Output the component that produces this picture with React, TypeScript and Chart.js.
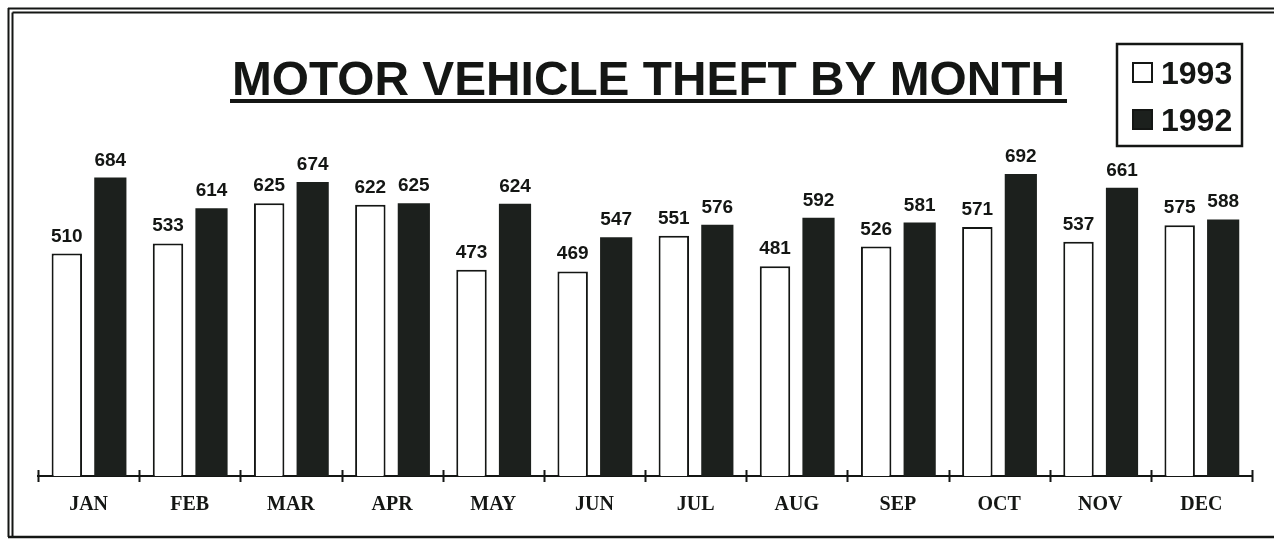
import React, { useEffect, useRef } from "react";
import { Chart, registerables } from "chart.js";

Chart.register(...registerables);

const months = ["JAN", "FEB", "MAR", "APR", "MAY", "JUN", "JUL", "AUG", "SEP", "OCT", "NOV", "DEC"];
const theft1993 = [510, 533, 625, 622, 473, 469, 551, 481, 526, 571, 537, 575];
const theft1992 = [684, 614, 674, 625, 624, 547, 576, 592, 581, 692, 661, 588];
const seriesLabels = ["1993", "1992"];
const titleText = "MOTOR VEHICLE THEFT BY MONTH";

const INK = "#141614";
const DARK = "#1c201d";
const SANS = '"Liberation Sans", Arial, sans-serif';
const SERIF = '"Liberation Serif", "Times New Roman", serif';

const framePlugin = {
  id: "frame",
  beforeDraw(chart: any) {
    const { ctx, width, height } = chart;
    ctx.save();
    ctx.fillStyle = "#ffffff";
    ctx.fillRect(0, 0, width, height);
    ctx.strokeStyle = INK;
    ctx.lineWidth = 2;
    // outer double lines top & left
    ctx.beginPath();
    ctx.moveTo(8, 8.5);
    ctx.lineTo(width, 8.5);
    ctx.moveTo(8.5, 8);
    ctx.lineTo(8.5, 537);
    ctx.moveTo(12.5, 12.5);
    ctx.lineTo(width, 12.5);
    ctx.moveTo(12.5, 12.5);
    ctx.lineTo(12.5, 537);
    ctx.stroke();
    // bottom line
    ctx.lineWidth = 2.5;
    ctx.beginPath();
    ctx.moveTo(8, 537);
    ctx.lineTo(width, 537);
    ctx.stroke();
    ctx.restore();
  },
};

const decorPlugin = {
  id: "decor",
  afterDraw(chart: any) {
    const { ctx } = chart;
    const xs = chart.scales.x;
    ctx.save();

    // Title
    const tLeft = 232;
    const tRight = 1065;
    ctx.font = `bold 49px ${SANS}`;
    ctx.fillStyle = INK;
    ctx.textBaseline = "alphabetic";
    ctx.textAlign = "left";
    const w = ctx.measureText(titleText).width;
    const sx = (tRight - tLeft) / w;
    ctx.save();
    ctx.translate(tLeft, 95);
    ctx.scale(sx, 1);
    ctx.fillText(titleText, 0, 0);
    ctx.restore();
    ctx.fillRect(tLeft - 2, 99, tRight - tLeft + 4, 4);

    // Tick marks across the baseline
    const y0 = xs.top;
    const n = months.length;
    const step = (xs.right - xs.left) / n;
    ctx.strokeStyle = INK;
    ctx.lineWidth = 2;
    ctx.beginPath();
    for (let i = 0; i <= n; i++) {
      const x = Math.round(xs.left + i * step) + 0.5;
      ctx.moveTo(x, y0 - 6);
      ctx.lineTo(x, y0 + 6);
    }
    ctx.stroke();

    // Value labels
    ctx.font = `bold 19px ${SANS}`;
    ctx.textAlign = "center";
    ctx.textBaseline = "alphabetic";
    chart.data.datasets.forEach((ds: any, di: number) => {
      const meta = chart.getDatasetMeta(di);
      meta.data.forEach((bar: any, i: number) => {
        ctx.fillText(String(ds.data[i]), bar.x, bar.y - 12);
      });
    });

    // Legend
    ctx.lineWidth = 2.5;
    ctx.strokeRect(1117, 44, 125, 102);
    const entries = chart.data.datasets;
    const rows = [62, 109];
    ctx.font = `bold 32px ${SANS}`;
    ctx.textAlign = "left";
    entries.forEach((ds: any, i: number) => {
      const top = rows[i];
      ctx.fillStyle = ds.backgroundColor;
      ctx.fillRect(1132, top, 21, 21);
      ctx.lineWidth = 2;
      ctx.strokeStyle = INK;
      ctx.strokeRect(1133, top + 1, 19, 19);
      ctx.fillStyle = INK;
      ctx.fillText(ds.label, 1161, top + 22);
    });

    ctx.restore();
  },
};

export default function App() {
  const ref = useRef<HTMLCanvasElement | null>(null);

  useEffect(() => {
    if (!ref.current) return;
    const chart = new Chart(ref.current, {
      type: "bar",
      data: {
        labels: months,
        datasets: [
          {
            label: seriesLabels[0],
            data: theft1993,
            backgroundColor: "#ffffff",
            borderColor: INK,
            borderWidth: 2,
            borderSkipped: "bottom",
            categoryPercentage: 0.86,
            barPercentage: 0.7,
          },
          {
            label: seriesLabels[1],
            data: theft1992,
            backgroundColor: DARK,
            borderColor: DARK,
            borderWidth: 0,
            categoryPercentage: 0.86,
            barPercentage: 0.74,
          },
        ],
      },
      options: {
        responsive: false,
        animation: false,
        devicePixelRatio: 1,
        layout: { padding: { left: 38, right: 22, top: 127, bottom: 0 } },
        plugins: {
          legend: { display: false },
          title: { display: false },
          tooltip: { enabled: false },
        },
        scales: {
          x: {
            grid: { display: false, drawTicks: false, tickLength: 0 },
            border: { display: true, color: INK, width: 2 },
            ticks: {
              color: INK,
              font: { family: SERIF, weight: "bold", size: 20 },
              padding: 17,
              maxRotation: 0,
              autoSkip: false,
            },
            afterFit: (scale: any) => {
              scale.height = 63;
            },
          },
          y: {
            display: false,
            min: 0,
            max: 800,
          },
        },
      },
      plugins: [framePlugin, decorPlugin],
    } as any);
    return () => chart.destroy();
  }, []);

  return (
    <div style={{ position: "absolute", left: 0, top: 0, width: 1274, height: 539 }}>
      <canvas ref={ref} width={1274} height={539} style={{ display: "block", width: 1274, height: 539 }} />
    </div>
  );
}
